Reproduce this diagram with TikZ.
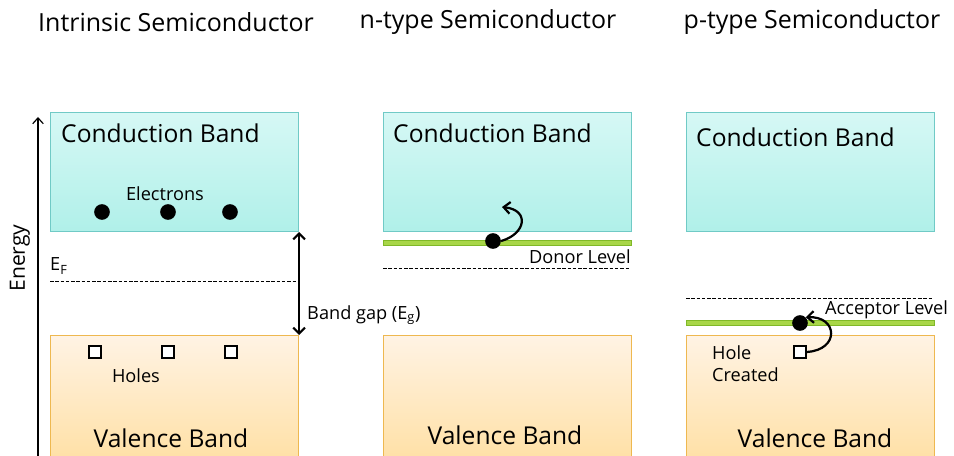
\documentclass[tikz,border=0pt]{standalone}
\usepackage{fontspec}
\setmainfont{Open Sans}
\usetikzlibrary{positioning,arrows.meta}

\definecolor{cbtop}{RGB}{214,248,245}
\definecolor{cbbot}{RGB}{176,240,233}
\definecolor{cbline}{RGB}{112,202,198}
\definecolor{vbtop}{RGB}{255,243,228}
\definecolor{vbbot}{RGB}{255,222,158}
\definecolor{vbline}{RGB}{238,184,80}
\definecolor{lvfill}{RGB}{168,214,72}
\definecolor{lvline}{RGB}{128,184,40}

\tikzset{
band/.style={
    draw, line width=0.9pt, minimum width=7.44cm,
    anchor=north west, inner sep=0pt
  },
cband/.style={band, draw=cbline, top color=cbtop, bottom color=cbbot, minimum height=3.57cm},
vband/.style={band, draw=vbline, top color=vbtop, bottom color=vbbot, minimum height=4.2cm}
}

\begin{document}
\begin{tikzpicture}[x=0.03cm,y=-0.03cm,
 titletxt/.style={font=\fontsize{21.3}{24}\selectfont, inner sep=0pt},
 bigtxt/.style={font=\fontsize{21}{24}\selectfont, inner sep=0pt},
 smalltxt/.style={font=\fontsize{15.5}{19}\selectfont, inner sep=0pt},
 electron/.style={circle, fill=black, minimum size=0.47cm, inner sep=0pt},
 hole/.style={rectangle, draw=black, line width=1pt, fill=white, minimum size=0.36cm, inner sep=0pt},
 level/.style={rectangle, draw=lvline, fill=lvfill, line width=0.6pt, minimum width=7.44cm,
    minimum height=0.16cm, anchor=west, inner sep=0pt},
 fermi/.style={dashed, line width=0.6pt, dash pattern=on 3pt off 1.5pt},
 hop/.style={-{Straight Barb[length=5.5pt,width=10pt]}, line width=1.9pt}
  ]
\clip (0,0) rectangle (954,456);

% titles
\node[titletxt] (t1) at (176,22) {Intrinsic Semiconductor};
\node[titletxt] (t2) at (488,22) {n-type Semiconductor};
\node[titletxt] (t3) at (812,22) {p-type Semiconductor};

% bands
\node[cband] (cb1) at (50,112) {};
\node[cband] (cb2) at (383,112) {};
\node[cband] (cb3) at (686,112) {};
\node[vband] (vb1) at (50,335) {};
\node[vband] (vb2) at (383,335) {};
\node[vband] (vb3) at (686,335) {};

\node[bigtxt, anchor=west] (cbl1) at (61,133) {Conduction Band};
\node[bigtxt, anchor=west] (cbl2) at (393,133) {Conduction Band};
\node[bigtxt, anchor=west] (cbl3) at (696,137) {Conduction Band};
\node[bigtxt] (vbl1) at (171,438) {Valence Band};
\node[bigtxt] (vbl2) at (505,435) {Valence Band};
\node[bigtxt] (vbl3) at (815,438) {Valence Band};

% intrinsic
\node[smalltxt] (el) at (165,194) {Electrons};
\foreach \x/\n in {102/a,168/b,230/c}
  \node[electron] (e\n) at (\x,212) {};
\foreach \x/\n in {95/a,168/b,231/c}
  \node[hole] (h\n) at (\x,352) {};
\node[smalltxt] (hl) at (136,376) {Holes};
\node[smalltxt, anchor=west] (ef) at (50,266) {E\textsubscript{F}};
\draw[fermi] (50,281) -- (298,281);
\draw[{Straight Barb[length=5pt,width=10pt]}-{Straight Barb[length=5pt,width=10pt]}, line width=1.8pt]
  (cb1.south east) -- (vb1.north east);
\node[smalltxt, anchor=west] (bg) at (307,315) {Band gap (E\textsubscript{g})};

\coordinate (ebot) at (38,470);
\coordinate (etop) at (38,117);
\draw[-{Straight Barb[length=5pt,width=9pt]}, line width=1pt] (ebot) -- (etop);
\node[smalltxt, font=\fontsize{18}{20}\selectfont, rotate=90] (en) at (20,258) {Energy};

% n-type
\node[level] (dl) at (383,243) {};
\node[smalltxt, anchor=east] (dlt) at (631,257) {Donor Level};
\draw[fermi] (383,268) -- (630,268);
\node[electron] (de) at (493,241) {};
\coordinate (dtip) at (502,207);
\draw[hop] (de.east) .. controls (526,234) and (530,210) .. (dtip);

% p-type
\draw[fermi] (686,298) -- (933,298);
\node[level] (al) at (686,323) {};
\node[smalltxt, anchor=west] (alt) at (825,310) {Acceptor Level};
\node[electron] (ae) at (800,323) {};
\node[hole] (hc) at (800,352) {};
\draw[hop] (hc.east) .. controls (840,350) and (838,316) .. (ae.north east);
\node[smalltxt, anchor=west, align=left] (hct) at (712,364) {Hole\\Created};
\end{tikzpicture}
\end{document}
